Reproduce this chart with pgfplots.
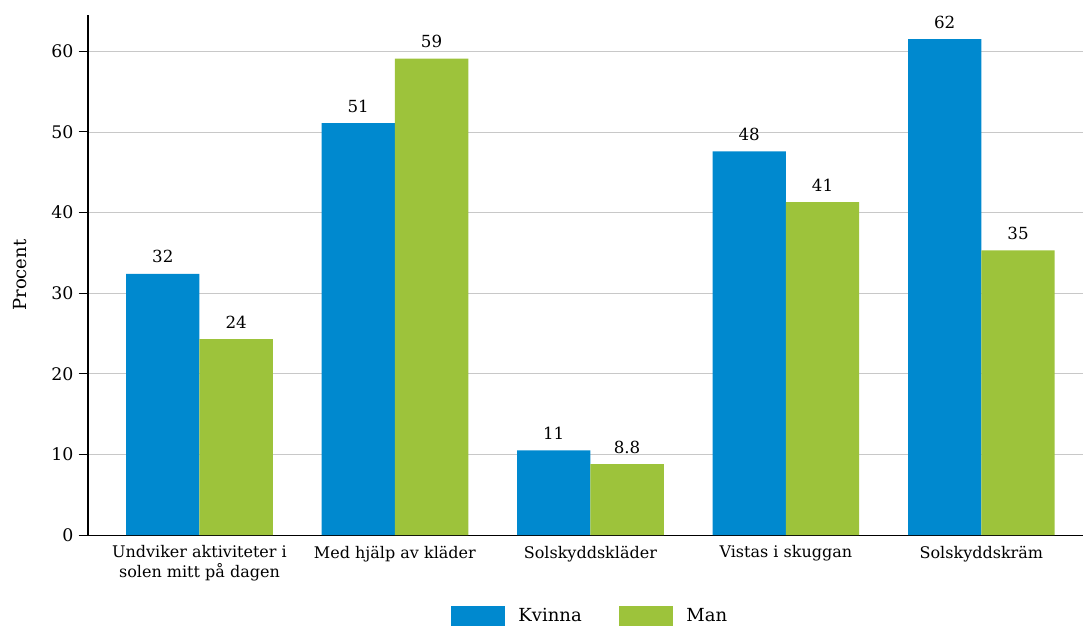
\documentclass[border=0pt]{standalone}
\usepackage{pgfplots}
\pgfplotsset{compat=1.18}
\usepackage{pgfplotstable}
\usepackage{fontspec}
\setmainfont{DejaVu Serif}
\definecolor{kblue}{RGB}{0,137,207}
\definecolor{mgreen}{RGB}{157,195,59}
\definecolor{gridgray}{RGB}{200,200,200}
\pgfplotstableread{
x y lab
0 32.4 32
1 51.1 51
2 10.5 11
3 47.6 48
4 61.5 62
}\kvinna
\pgfplotstableread{
x y lab
0 24.3 24
1 59.1 59
2 8.8 8.8
3 41.3 41
4 35.3 35
}\man
\begin{document}
\fontsize{11.4}{14}\selectfont
\begin{tikzpicture}
\begin{axis}[
  scale only axis,
  width=746pt, height=390pt,
  ybar=0pt, bar width=55pt,
  xmin=-0.57, xmax=4.52,
  ymin=0, ymax=64.5,
  axis lines*=left,
  axis line style={black, line width=0.8pt},
  xtick=data,
  xticklabels={{Undviker aktiviteter i\\solen mitt på dagen},{Med hjälp av kläder},{Solskyddskläder},{Vistas i skuggan},{Solskyddskräm}},
  xticklabel style={align=center, font=\fontsize{12}{15}\selectfont, yshift=3pt},
  major x tick style={draw=none},
  ytick={0,10,20,30,40,50,60},
  ymajorgrids,
  grid style={gridgray, line width=0.6pt},
  tick align=outside,
  major y tick style={black, line width=0.8pt},
  major tick length=7pt,
  yticklabel style={font=\fontsize{13}{14}\selectfont},
  /pgf/number format/assume math mode=true,
  ylabel={Procent},
  every axis y label/.style={at={(axis description cs:0,0.5)}, rotate=90, anchor=center, yshift=51pt, font=\fontsize{13.5}{14}\selectfont},
  nodes near coords,
  point meta=explicit symbolic,
  nodes near coords style={font=\fontsize{12.5}{14}\selectfont, anchor=south, yshift=4pt, black},
  legend style={at={(0.505,-0.13)}, anchor=north, draw=none, legend columns=2,
    font=\fontsize{13.5}{14}\selectfont,
    /tikz/every odd column/.append style={column sep=8pt},
    /tikz/every even column/.append style={column sep=26pt}},
  legend image code/.code={\fill (0pt,-7.5pt) rectangle (40.5pt,7.5pt);},
]
\addplot[fill=kblue, draw=none] table[x=x, y=y, meta=lab] {\kvinna};
\addplot[fill=mgreen, draw=none] table[x=x, y=y, meta=lab] {\man};
\legend{Kvinna, Man}
\end{axis}
\pgfresetboundingbox
\path (current axis.south west) ++(-66pt,-69.75pt) coordinate (bl);
\path (current axis.south west) ++(746pt,401.25pt) coordinate (tr);
\path (bl) rectangle (tr);
\end{tikzpicture}
\end{document}
